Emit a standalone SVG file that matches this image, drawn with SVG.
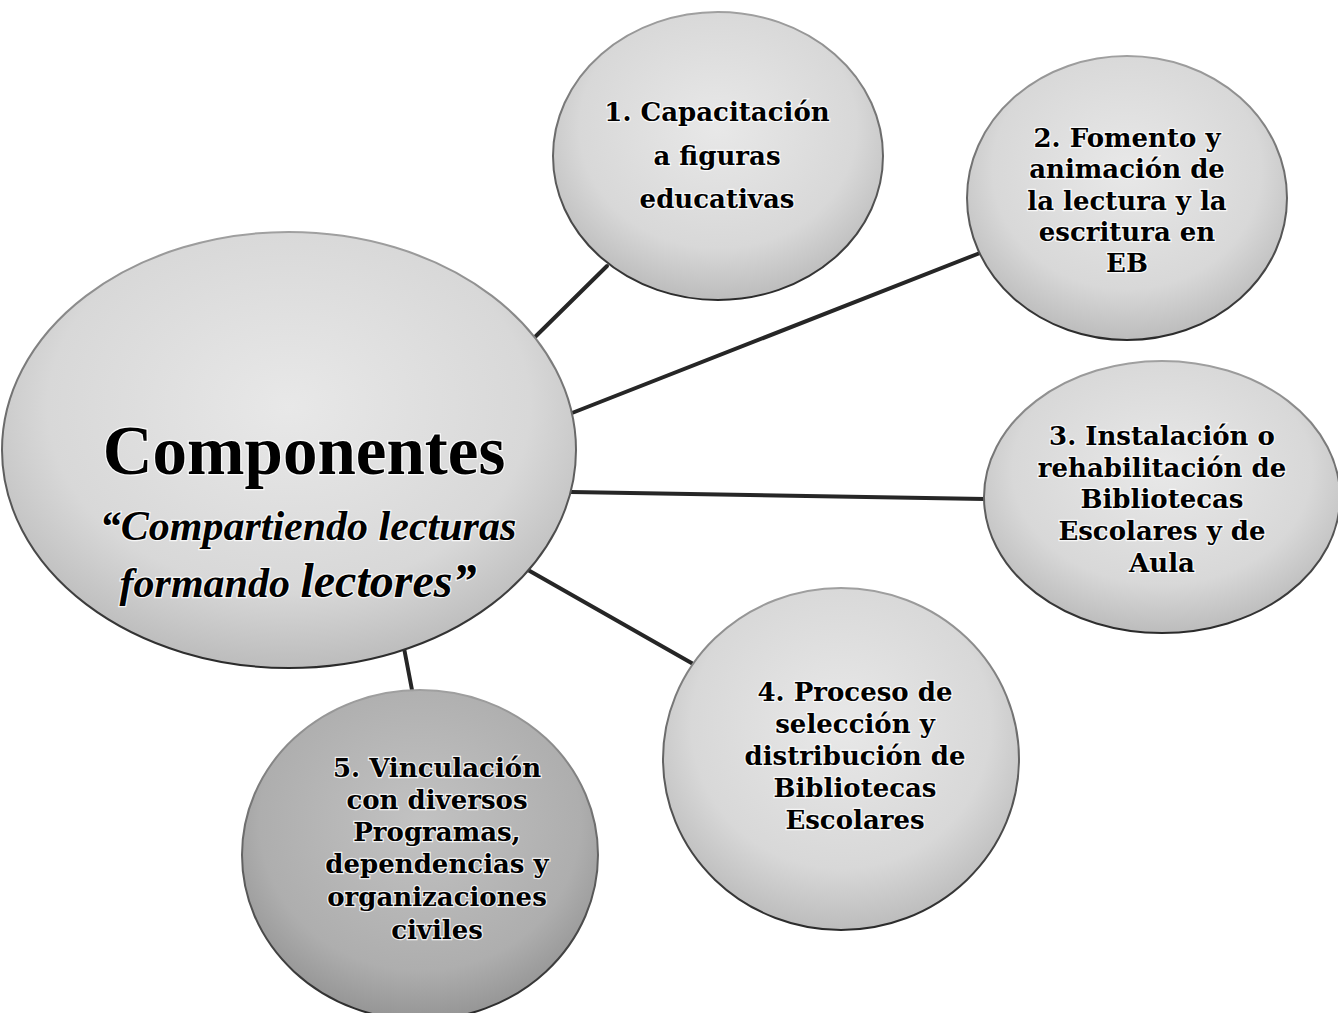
<svg xmlns="http://www.w3.org/2000/svg" width="1338" height="1013" viewBox="0 0 1338 1013">
  <defs>
    <radialGradient id="gLight" cx="50%" cy="40%" r="60%">
      <stop offset="0%" stop-color="#e8e8e8"/>
      <stop offset="70%" stop-color="#d8d8d8"/>
      <stop offset="100%" stop-color="#bcbcbc"/>
    </radialGradient>
    <radialGradient id="gDark" cx="50%" cy="40%" r="60%">
      <stop offset="0%" stop-color="#c2c2c2"/>
      <stop offset="75%" stop-color="#aeaeae"/>
      <stop offset="100%" stop-color="#959595"/>
    </radialGradient>
    <linearGradient id="gRim" x1="0" y1="0" x2="0" y2="1">
      <stop offset="0%" stop-color="#a0a0a0"/>
      <stop offset="45%" stop-color="#6a6a6a"/>
      <stop offset="100%" stop-color="#2a2a2a"/>
    </linearGradient>
    <style>
      .node { stroke: url(#gRim); stroke-width: 2; }
      .light { fill: url(#gLight); }
      .dark { fill: url(#gDark); }
      .conn { stroke: #262626; stroke-width: 4; stroke-linecap: round; fill: none; }
      .lbl { font-family: "DejaVu Serif", "Liberation Serif", serif; font-weight: bold; font-size: 26px; fill: #000; text-anchor: middle; stroke: #ffffff; stroke-width: 2.5; stroke-opacity: 0.8; paint-order: stroke; }
      .big { font-size: 26px; }
      .title { font-family: "Liberation Serif", "DejaVu Serif", serif; font-size: 69px; }
      .sub { font-family: "Liberation Serif", "DejaVu Serif", serif; font-style: italic; font-size: 42px; }
    </style>
  </defs>
  <rect width="1338" height="1013" fill="#ffffff"/>
  <g id="connectors">
    <line class="conn" x1="535" y1="337" x2="607" y2="266"/>
    <line class="conn" x1="572" y1="413" x2="980" y2="253"/>
    <line class="conn" x1="571" y1="492" x2="985" y2="499"/>
    <line class="conn" x1="528" y1="570" x2="695" y2="665"/>
    <line class="conn" x1="404" y1="648" x2="412" y2="690"/>
  </g>
  <g id="node-center">
    <ellipse class="node light" cx="289" cy="450" rx="287" ry="218"/>
    <text class="lbl title" x="304" y="474">Componentes</text>
    <text class="lbl sub" x="308" y="540">“Compartiendo lecturas</text>
    <text class="lbl sub" x="298" y="597">formando <tspan font-size="48">lectores”</tspan></text>
  </g>
  <g id="node-1">
    <ellipse class="node light" cx="718" cy="156" rx="165" ry="144"/>
    <text class="lbl big" x="717" y="121">1. Capacitación</text>
    <text class="lbl big" x="717" y="165">a figuras</text>
    <text class="lbl big" x="717" y="208">educativas</text>
  </g>
  <g id="node-2">
    <ellipse class="node light" cx="1127" cy="198" rx="160" ry="142"/>
    <text class="lbl" x="1127" y="147">2. Fomento y</text>
    <text class="lbl" x="1127" y="178">animación de</text>
    <text class="lbl" x="1127" y="210">la lectura y la</text>
    <text class="lbl" x="1127" y="241">escritura en</text>
    <text class="lbl" x="1127" y="272">EB</text>
  </g>
  <g id="node-3">
    <ellipse class="node light" cx="1162" cy="497" rx="178" ry="136"/>
    <text class="lbl" x="1162" y="445">3. Instalación o</text>
    <text class="lbl" x="1162" y="477">rehabilitación de</text>
    <text class="lbl" x="1162" y="508">Bibliotecas</text>
    <text class="lbl" x="1162" y="540">Escolares y de</text>
    <text class="lbl" x="1162" y="572">Aula</text>
  </g>
  <g id="node-4">
    <ellipse class="node light" cx="841" cy="759" rx="178" ry="171"/>
    <text class="lbl" x="855" y="701">4. Proceso de</text>
    <text class="lbl" x="855" y="733">selección y</text>
    <text class="lbl" x="855" y="765">distribución de</text>
    <text class="lbl" x="855" y="797">Bibliotecas</text>
    <text class="lbl" x="855" y="829">Escolares</text>
  </g>
  <g id="node-5">
    <ellipse class="node dark" cx="420" cy="855" rx="178" ry="165"/>
    <text class="lbl" x="437" y="777">5. Vinculación</text>
    <text class="lbl" x="437" y="809">con diversos</text>
    <text class="lbl" x="437" y="841">Programas,</text>
    <text class="lbl" x="437" y="873">dependencias y</text>
    <text class="lbl" x="437" y="906">organizaciones</text>
    <text class="lbl" x="437" y="939">civiles</text>
  </g>
</svg>
